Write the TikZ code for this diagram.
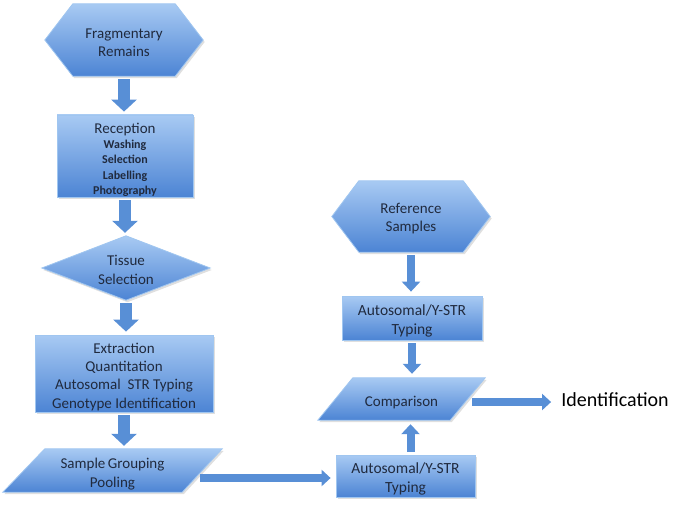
\documentclass[tikz,border=0pt]{standalone}
\usepackage{fontspec}
\setmainfont{Carlito}
\usetikzlibrary{arrows.meta,calc,shadows}
\pgfdeclarelayer{background}
\pgfsetlayers{background,main}
\definecolor{boxtop}{RGB}{168,202,243}
\definecolor{boxbot}{RGB}{76,132,212}
\definecolor{boxedge}{RGB}{160,198,240}
\definecolor{arrowcol}{RGB}{88,143,214}
\definecolor{txt}{RGB}{32,42,62}
\newcommand{\lift}{\rule{0pt}{17pt}}
\begin{document}
\begin{tikzpicture}[x=1pt,y=-1pt,
  shapefill/.style={top color=boxtop,bottom color=boxbot,draw=boxedge,line width=0.8pt,
    drop shadow={opacity=0.25,shadow xshift=1.5pt,shadow yshift=-2pt}},
  holder/.style={inner sep=0pt,align=center,text=txt,font=\fontsize{15}{18.5}\selectfont},
  boxnode/.style={holder,shapefill},
  bigarrow/.style={draw=arrowcol,line width=12pt,-{Triangle[width=25pt,length=12pt]},shorten <=3pt,shorten >=3pt},
  smallarrow/.style={draw=arrowcol,line width=8pt,-{Triangle[width=18pt,length=10pt]},shorten <=3pt,shorten >=4pt},
  harrow/.style={draw=arrowcol,line width=8pt,-{Triangle[width=16pt,length=9pt]}}
]
\useasboundingbox (0,0) rectangle (700,505);

% left column
\node[holder,minimum width=158pt,minimum height=72pt] (fr) at (124,40) {\rule{0pt}{15pt}Fragmentary\\Remains};
\node[boxnode,minimum width=136pt,minimum height=82pt,font=\fontsize{15}{15.2}\selectfont] (rc) at (125,156)
  {\rule{0pt}{18pt}Reception\\{\fontsize{12}{15.2}\selectfont\bfseries Washing}\\{\fontsize{12}{15.2}\selectfont\bfseries Selection}\\{\fontsize{12}{15.2}\selectfont\bfseries Labelling}\\{\fontsize{12}{15.2}\selectfont\bfseries Photography}};
\node[holder,minimum width=168pt,minimum height=64pt] (ts) at (126,268) {\rule{0pt}{14pt}Tissue\\Selection};
\node[boxnode,minimum width=178pt,minimum height=77pt,font=\fontsize{15}{18.3}\selectfont] (ex) at (124,373.5)
  {\lift Extraction\\Quantitation\\Autosomal\ \ STR Typing\\Genotype Identification};
\node[holder,minimum width=219pt,minimum height=43pt] (sg) at (112.5,470.5) {\rule{0pt}{18pt}Sample\,Grouping\\Pooling};

% right column
\node[holder,minimum width=158pt,minimum height=71pt,font=\fontsize{15}{18.5}\selectfont] (rs) at (411,216.5) {\rule{0pt}{14pt}Reference\\Samples};
\node[boxnode,minimum width=140pt,minimum height=44pt,font=\fontsize{15.5}{19}\selectfont] (rt) at (412,318) {\lift Autosomal/Y-STR\\Typing};
\node[holder,minimum width=167pt,minimum height=42pt,font=\fontsize{15}{18}\selectfont] (cmp) at (401.5,399) {\lift Comparison};
\node[boxnode,minimum width=139pt,minimum height=42pt,font=\fontsize{15.5}{19}\selectfont] (bt) at (405.5,476) {\lift Autosomal/Y-STR\\Typing};
\node[inner sep=0pt,font=\fontsize{20}{24}\selectfont,text=black] (id) at (615,400) {Identification};

% shaped backgrounds
\begin{pgfonlayer}{background}
\path[shapefill] (fr.west) -- ($(fr.north west)+(28,0)$) -- ($(fr.north east)+(-28,0)$) -- (fr.east)
  -- ($(fr.south east)+(-28,0)$) -- ($(fr.south west)+(28,0)$) -- cycle;
\path[shapefill] (ts.west) -- (ts.north) -- (ts.east) -- (ts.south) -- cycle;
\path[shapefill] (sg.south west) -- ($(sg.north west)+(42,0)$) -- (sg.north east) -- ($(sg.south east)+(-40,0)$) -- cycle;
\path[shapefill] (rs.west) -- ($(rs.north west)+(27,0)$) -- ($(rs.north east)+(-27,0)$) -- (rs.east)
  -- ($(rs.south east)+(-27,0)$) -- ($(rs.south west)+(27,0)$) -- cycle;
\path[shapefill] (cmp.south west) -- ($(cmp.north west)+(35,0)$) -- (cmp.north east) -- ($(cmp.south east)+(-35,0)$) -- cycle;
\end{pgfonlayer}

% connectors
\draw[bigarrow] (fr.south) -- (fr.south |- rc.north);
\draw[bigarrow] (rc.south) -- (rc.south |- ts.north);
\draw[bigarrow] (ts.south) -- (ts.south |- ex.north);
\draw[bigarrow] (ex.south) -- (ex.south |- sg.north);
\coordinate (sgout) at (200,478);
\draw[harrow] (sgout) -- ($(sgout -| bt.west)+(-5,0)$);
\draw[smallarrow] (rs.south) -- (rs.south |- rt.north);
\draw[smallarrow] (rt.south) -- (rt.south |- cmp.north);
\coordinate (upfrom) at ($(bt.north)+(5,0)$);
\draw[smallarrow] (upfrom) -- (upfrom |- cmp.south);
\coordinate (cmpout) at (472,402);
\draw[harrow] (cmpout) -- ($(cmpout -| id.west)+(-10,0)$);
\end{tikzpicture}
\end{document}
